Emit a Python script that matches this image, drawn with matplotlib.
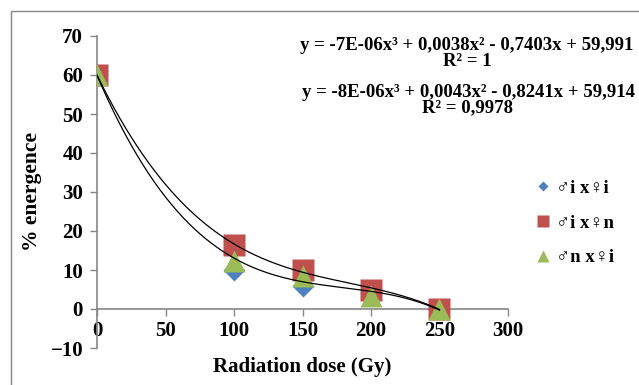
import matplotlib
matplotlib.use('Agg')
import matplotlib.pyplot as plt
from matplotlib.lines import Line2D
from matplotlib.patches import Rectangle
import numpy as np

plt.rcParams['font.family'] = ['Liberation Serif', 'DejaVu Sans']
plt.rcParams['font.weight'] = 'bold'
plt.rcParams['axes.labelweight'] = 'bold'

# ── Data ──────────────────────────────────────────────────────────────────────
dose = [0, 100, 150, 200, 250]          # Gy
emerg_ii = [60, 10, 6, 4, 0]            # ♂i x ♀i
emerg_in = [60, 16.4, 10, 5, 0]         # ♂i x ♀n
emerg_ni = [60, 12.3, 8.5, 3.4, 0]      # ♂n x ♀i
series_labels = ['♂i x♀i', '♂i x♀n', '♂n x♀i']
eq_upper = 'y = -7E-06x³ + 0,0038x² - 0,7403x + 59,991\nR² = 1'
eq_lower = 'y = -8E-06x³ + 0,0043x² - 0,8241x + 59,914\nR² = 0,9978'
x_ticks = list(range(0, 301, 50))
y_ticks = list(range(-10, 71, 10))

GREY = '#868686'
BLUE = '#4f81bd'
RED = '#c0504d'
GREEN = '#9bbb59'

W, H = 639, 385
fig = plt.figure(figsize=(W / 100, H / 100), dpi=100)
ax = fig.add_axes([97 / W, 37 / H, 411 / W, 312 / H])

ax.plot(dose, emerg_ii, 'D', color=BLUE, ms=11.5, mec='none', zorder=3)
ax.plot(dose, emerg_in, 's', color=RED, ms=15.3, mec='none', zorder=3)
ax.plot(dose, emerg_ni, '^', color=GREEN, ms=16, mec='none', zorder=3)

# cubic trend lines (poly 3)
xs = np.linspace(0, 250, 300)
for ys in (emerg_in, emerg_ni):
    coef = np.polyfit(dose, ys, 3)
    ax.plot(xs, np.polyval(coef, xs), color='black', lw=0.9, zorder=4)

ax.set_xlim(0, 300)
ax.set_ylim(-10, 70)
ax.set_xticks(x_ticks)
ax.set_yticks(y_ticks)
ax.spines['bottom'].set_position(('data', 0))
ax.spines['top'].set_visible(False)
ax.spines['right'].set_visible(False)
for s in ('left', 'bottom'):
    ax.spines[s].set_color(GREY)
    ax.spines[s].set_linewidth(1.2)
ax.tick_params(direction='out', length=5, width=1, color=GREY,
               labelsize=15, pad=5)
ax.tick_params(axis='x', pad=4)
# the "0" label sits on top of the y axis line
ax.get_xticklabels()[0].set_bbox(dict(facecolor='white', edgecolor='none', pad=0.5))

ax.set_xlabel('Radiation dose (Gy)', fontsize=15)
ax.xaxis.set_label_coords(0.5, -0.028)
ax.set_ylabel('% energence', fontsize=15.5)
ax.yaxis.set_label_coords(-0.135, 0.5)

# legend with the smaller markers
handles = [
    Line2D([], [], ls='none', marker='D', color=BLUE, ms=5.6, mec='none'),
    Line2D([], [], ls='none', marker='s', color=RED, ms=8.6, mec='none'),
    Line2D([], [], ls='none', marker='^', color=GREEN, ms=8.6, mec='none'),
]
fig.legend(handles, series_labels, loc='center left',
           bbox_to_anchor=(528 / W, 1 - 223 / H), frameon=False,
           fontsize=13.5, labelspacing=0.95, handlelength=0.8,
           handletextpad=0.3, borderaxespad=0)

fig.text(467 / W, 1 - 53.5 / H, eq_upper, ha='center', va='center',
         fontsize=13.5, linespacing=0.9)
fig.text(468 / W, 1 - 100 / H, eq_lower, ha='center', va='center',
         fontsize=13.5, linespacing=0.9)

# chart area border
fig.patches.append(Rectangle((11 / W, -0.1), 1.2, 1 - 11 / H + 0.1,
                             transform=fig.transFigure, fill=False,
                             edgecolor=GREY, lw=1))

fig.savefig('out.png', dpi=100)
